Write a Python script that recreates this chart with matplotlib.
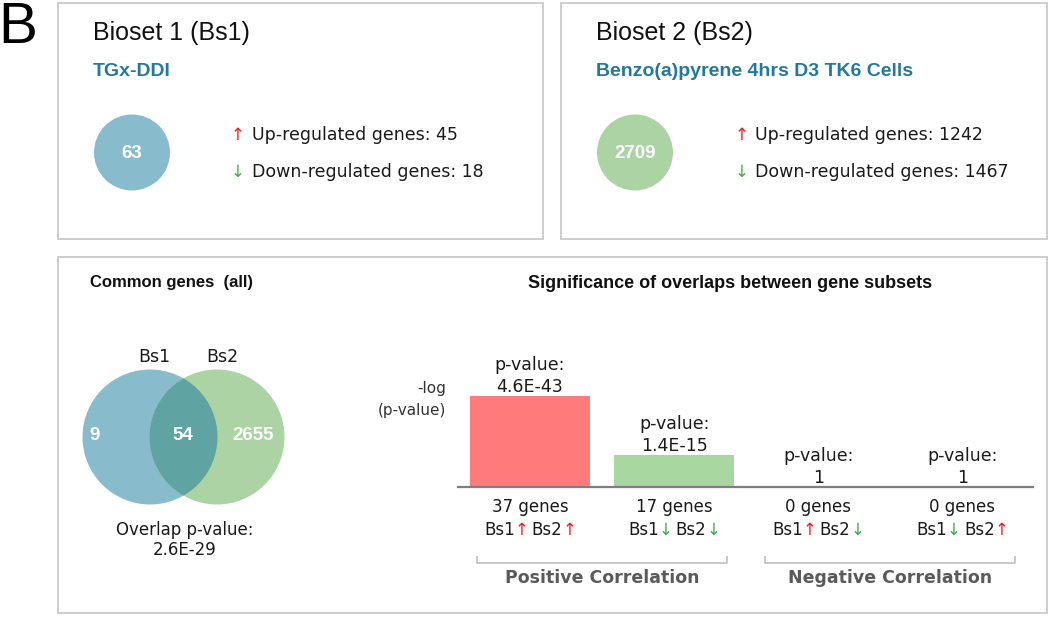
import numpy as np
import matplotlib
matplotlib.use("Agg")
import matplotlib.pyplot as plt
from matplotlib.patches import Rectangle, Circle

# ---------------- data ----------------
bioset_titles = ["Bioset 1 (Bs1)", "Bioset 2 (Bs2)"]
bioset_desc = ["TGx-DDI", "Benzo(a)pyrene 4hrs D3 TK6 Cells"]
bioset_total = [63, 2709]
bioset_up = [45, 1242]
bioset_down = [18, 1467]

venn_labels = ["Bs1", "Bs2"]
venn_counts = [9, 54, 2655]          # only Bs1, both, only Bs2
overlap_pvalue_label = "2.6E-29"

subset_pvalues = [4.6e-43, 1.4e-15, 1.0, 1.0]
subset_pvalue_labels = ["4.6E-43", "1.4E-15", "1", "1"]
subset_genes = [37, 17, 0, 0]
subset_dirs = [("up", "up"), ("down", "down"), ("up", "down"), ("down", "up")]
group_labels = ["Positive Correlation", "Negative Correlation"]

# ---------------- styles ----------------
W, H = 1050, 619
BLUE_C = "#88bccd"
GREEN_C = "#acd3a4"
OVER_C = "#5fa3a3"
TITLE_BLUE = "#23799d"
RED_ARROW = "#ff1a1a"
GREEN_ARROW = "#3cb043"
BAR_COLORS = ["#ff7b7b", "#a8d8a0", "#cccccc", "#cccccc"]
BOX_C = "#c9c9c9"
TXT = "#1a1a1a"
SANS = "DejaVu Sans"
ARIAL = "Liberation Sans"

fig = plt.figure(figsize=(W / 100, H / 100), dpi=100)
fig.patch.set_facecolor("white")
ax = fig.add_axes([0, 0, 1, 1])
ax.set_xlim(0, W)
ax.set_ylim(H, 0)
ax.set_axis_off()

renderer = fig.canvas.get_renderer()


def rich_text(x, y, pieces, size, ha="center", family=SANS):
    """pieces: list of (text, color, gap_after_px)"""
    texts, widths = [], []
    for s, c, g in pieces:
        t = ax.text(0, y, s, color=c, fontsize=size, va="center", ha="left",
                    family=family)
        texts.append((t, g))
        widths.append(t.get_window_extent(renderer).width)
    total = sum(widths) + sum(g for _, g in texts[:-1])
    x0 = x - total / 2 if ha == "center" else x
    for (t, g), w in zip(texts, widths):
        t.set_x(x0)
        x0 += w + g


def arrow(d):
    return ("\u2191", RED_ARROW) if d == "up" else ("\u2193", GREEN_ARROW)


# ---------------- panel letter ----------------
ax.text(-2, 28, "B", fontsize=42, family=ARIAL, va="center", ha="left", color="black")

# ---------------- top boxes ----------------
boxes = [(58, 3, 543, 239), (561, 3, 1047, 239)]
circ_cx = [132, 635]
circ_col = [BLUE_C, GREEN_C]
arrow_x = [238, 742]
text_x = [252, 755]
for k in range(2):
    x0, y0, x1, y1 = boxes[k]
    ax.add_patch(Rectangle((x0, y0), x1 - x0, y1 - y0, fill=False, ec=BOX_C, lw=1.3))
    ax.text(x0 + 35, 33, bioset_titles[k], fontsize=18, family=ARIAL, color="#111111",
            va="center", ha="left")
    ax.text(x0 + 35, 72, bioset_desc[k], fontsize=14, family=ARIAL, weight="bold",
            color=TITLE_BLUE, va="center", ha="left")
    ax.add_patch(Circle((circ_cx[k], 152.5), 38, color=circ_col[k], lw=0))
    ax.text(circ_cx[k], 153, str(bioset_total[k]), fontsize=13.5, family=ARIAL,
            weight="bold", color="white", ha="center", va="center")
    ax.text(arrow_x[k], 135, "\u2191", color=RED_ARROW, fontsize=12, ha="center",
            va="center", family=SANS)
    ax.text(text_x[k], 135, f"Up-regulated genes: {bioset_up[k]}", fontsize=12.5,
            family=SANS, color=TXT, ha="left", va="center")
    ax.text(arrow_x[k], 172, "\u2193", color=GREEN_ARROW, fontsize=12, ha="center",
            va="center", family=SANS)
    ax.text(text_x[k], 172, f"Down-regulated genes: {bioset_down[k]}", fontsize=12.5,
            family=SANS, color=TXT, ha="left", va="center")

# ---------------- bottom box ----------------
ax.add_patch(Rectangle((58, 257), 1047 - 58, 613 - 257, fill=False, ec=BOX_C, lw=1.3))
ax.text(90, 283, "Common genes  (all)", fontsize=12, family=ARIAL, weight="bold",
        color="#111111", ha="left", va="center")
ax.text(730, 284, "Significance of overlaps between gene subsets", fontsize=13,
        family=ARIAL, weight="bold", color="#111111", ha="center", va="center")

# Venn
vc1, vc2, vy, vr = 150, 217, 437, 67.5
c1 = Circle((vc1, vy), vr, color=BLUE_C, lw=0)
c2 = Circle((vc2, vy), vr, color=GREEN_C, lw=0)
ax.add_patch(c1)
ax.add_patch(c2)
c3 = Circle((vc1, vy), vr, color=OVER_C, lw=0)
ax.add_patch(c3)
c3.set_clip_path(c2)
ax.text(154, 357, venn_labels[0], fontsize=12.5, family=SANS, color=TXT, ha="center", va="center")
ax.text(222, 357, venn_labels[1], fontsize=12.5, family=SANS, color=TXT, ha="center", va="center")
for xx, v in zip([95, 183, 253], venn_counts):
    ax.text(xx, 435, str(v), fontsize=13.5, family=ARIAL, weight="bold", color="white",
            ha="center", va="center")
ax.text(185, 530, "Overlap p-value:", fontsize=12, family=SANS, color=TXT,
        ha="center", va="center")
ax.text(185, 550, overlap_pvalue_label, fontsize=12, family=SANS, color=TXT,
        ha="center", va="center")

# y label
ax.text(446, 389, "-log", fontsize=11, family=SANS, color="#333333", ha="right", va="center")
ax.text(446, 411, "(p-value)", fontsize=11, family=SANS, color="#333333", ha="right", va="center")

# ---------------- bar chart ----------------
px_per_unit = 2.149
bx = fig.add_axes([458 / W, (H - 487) / H, (1033 - 458) / W, 130 / H])
bx.patch.set_alpha(0)
heights = -np.log10(np.array(subset_pvalues))
pos = np.arange(len(subset_pvalues))
bx.bar(pos, heights, width=0.83, color=BAR_COLORS, lw=0)
bx.set_xlim(-0.5, 3.49)
bx.set_ylim(0, 130 / px_per_unit)
for s in ["top", "left", "right"]:
    bx.spines[s].set_visible(False)
bx.spines["bottom"].set_color("#7f7f7f")
bx.spines["bottom"].set_linewidth(1.6)
bx.set_xticks([])
bx.set_yticks([])

for i, h in enumerate(heights):
    h = max(h, 0)
    bx.annotate("p-value:", xy=(i, h), xytext=(0, 31), textcoords="offset pixels",
                ha="center", va="center", fontsize=12.5, family=SANS, color=TXT)
    bx.annotate(subset_pvalue_labels[i], xy=(i, h), xytext=(0, 9), textcoords="offset pixels",
                ha="center", va="center", fontsize=12.5, family=SANS, color=TXT)

# positions of bar centers in main-axes pixel coordinates
centers = []
for i in pos:
    d = bx.transData.transform((i, 0))
    centers.append(ax.transData.inverted().transform(d))
centers = np.array(centers)

for i in pos:
    cx, cy = centers[i]
    ax.text(cx, cy + 20, f"{subset_genes[i]} genes", fontsize=12, family=SANS, color=TXT,
            ha="center", va="center")
    a1, col1 = arrow(subset_dirs[i][0])
    a2, col2 = arrow(subset_dirs[i][1])
    rich_text(cx, cy + 43, [("Bs1", TXT, 0), (a1, col1, 3), ("Bs2", TXT, 0), (a2, col2, 0)],
              12)

# brackets
base_y = centers[0][1]
for g, (i0, i1) in enumerate([(0, 1), (2, 3)]):
    xl = centers[i0][0] - 53
    xr = centers[i1][0] + 53
    yb = base_y + 76
    ax.plot([xl, xl, xr, xr], [yb - 7, yb, yb, yb - 7], color="#c4c4c4", lw=1.3,
            solid_capstyle="butt")
    ax.text((xl + xr) / 2, base_y + 91, group_labels[g], fontsize=12.5, family=SANS,
            weight="bold", color="#5a5a5a", ha="center", va="center")

fig.savefig("out.png", dpi=100)
